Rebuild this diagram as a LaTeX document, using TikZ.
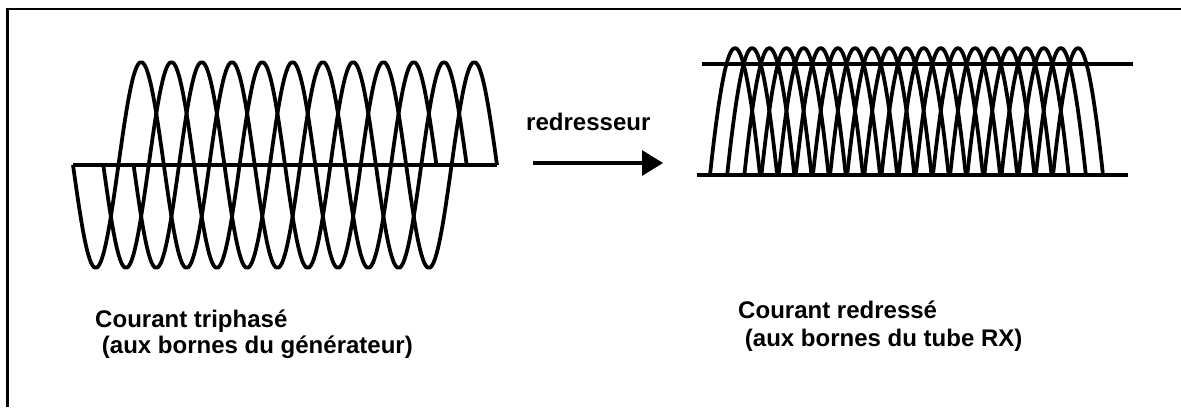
\documentclass[tikz,border=0pt]{standalone}
\usepackage{fontspec}
\setmainfont{Liberation Sans}
\usetikzlibrary{arrows.meta}

\tikzset{
  onde/.style={line width=3.2pt, line join=round},
  axe/.style={line width=3.2pt},
  legende/.style={font=\bfseries\fontsize{20.5}{24}\selectfont, inner sep=0pt, anchor=base west},
}

\begin{document}
\begin{tikzpicture}[x=0.03cm, y=-0.03cm]
  \useasboundingbox (0,0) rectangle (1181,407);
  % Cadre
  \draw[line width=1.8pt] (7.5,407) -- (7.5,8.7) -- (1181,8.7);

  % Courant triphase : trois phases decalees d'un tiers de periode
  \def\periode{90.86}
  \draw[axe] (73,165) -- (497,165);
  \foreach \k in {0,1,2}
    \draw[onde] plot[domain=0:1440, samples=121, smooth]
      ({73 + \k*\periode/3 + \x/360*\periode}, {165 + 103*sin(\x)});

  % Courant redresse
  \draw[axe] (702,64) -- (1133,64);
  \draw[axe] (697,175) -- (1128,175);
  \foreach \i in {0,...,20}
    \draw[onde] plot[domain=-60:60, samples=25, smooth]
      ({735 + 17.15*\i + 25*\x/60}, {175 - 254*(cos(\x) - 0.5)});

  % Fleche
  \coordinate (depart) at (533,163);
  \coordinate (arrivee) at (663,163);
  \draw[line width=2.8pt, -{Triangle[length=0.63cm, width=0.75cm]}] (depart) -- (arrivee);
  \node[legende] (redresseur) at (526,130) {redresseur};

  % Legendes
  \node[legende] (triphase) at (95,327) {Courant triphasé};
  \node[legende] (bornesgen) at (95,353) {\ (aux bornes du générateur)};
  \node[legende] (redresse) at (738,318) {Courant redressé};
  \node[legende] (bornestube) at (738,346.5) {\ (aux bornes du tube RX)};
\end{tikzpicture}
\end{document}
